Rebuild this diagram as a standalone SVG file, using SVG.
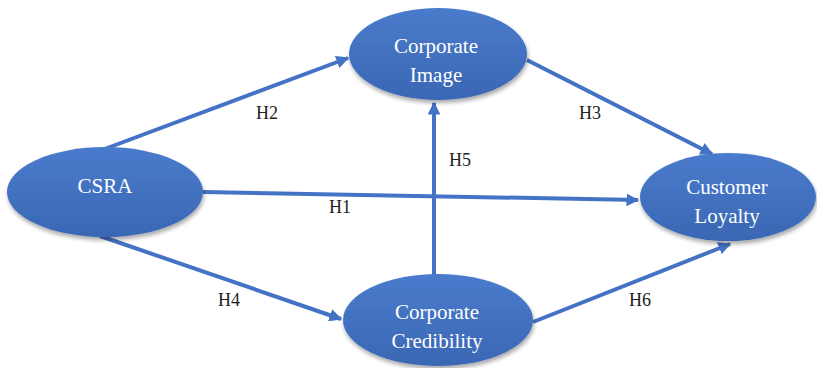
<svg xmlns="http://www.w3.org/2000/svg" width="817" height="368" viewBox="0 0 817 368">
<defs>
<linearGradient id="g" x1="0" y1="0" x2="0" y2="1">
<stop offset="0" stop-color="#4a7bcc"/>
<stop offset="1" stop-color="#3a67b4"/>
</linearGradient>
<filter id="sh" x="-10%" y="-10%" width="130%" height="140%">
<feGaussianBlur in="SourceAlpha" stdDeviation="2"/>
<feOffset dx="1" dy="3"/>
<feComponentTransfer><feFuncA type="linear" slope="0.35"/></feComponentTransfer>
<feMerge><feMergeNode/><feMergeNode in="SourceGraphic"/></feMerge>
</filter>
<marker id="ah" viewBox="0 0 10 10" refX="9" refY="5" markerWidth="3.2" markerHeight="3.2" orient="auto" markerUnits="strokeWidth">
<path d="M0,0 L10,5 L0,10 z" fill="#4472c4"/>
</marker>
<style>
.node{fill:url(#g);filter:url(#sh);}
.nt{font-family:'Liberation Serif','Times New Roman','DejaVu Serif',serif;font-size:21px;fill:#ffffff;text-anchor:middle;}
.lb{font-family:'Liberation Serif','Times New Roman','DejaVu Serif',serif;font-size:18px;fill:#222222;text-anchor:middle;}
.c{stroke:#4472c4;stroke-width:4;fill:none;marker-end:url(#ah);}
</style>
</defs>
<rect width="817" height="368" fill="#ffffff"/>
<g id="connectors">
<line class="c" x1="102" y1="150" x2="348" y2="58"/>
<line class="c" x1="527" y1="60" x2="712" y2="154"/>
<line class="c" x1="203" y1="192" x2="638" y2="200"/>
<line class="c" x1="434" y1="277" x2="434" y2="103"/>
<line class="c" x1="100" y1="236" x2="341" y2="319"/>
<line class="c" x1="533" y1="322" x2="730" y2="244"/>
</g>
<g id="labels">
<text class="lb" x="267" y="119">H2</text>
<text class="lb" x="590" y="119">H3</text>
<text class="lb" x="460" y="166">H5</text>
<text class="lb" x="340" y="213">H1</text>
<text class="lb" x="229" y="306">H4</text>
<text class="lb" x="640" y="306">H6</text>
</g>
<g id="image">
<ellipse class="node" cx="438" cy="54" rx="89" ry="46"/>
<text class="nt" x="436" y="53">Corporate</text>
<text class="nt" x="436" y="82">Image</text>
</g>
<g id="csra">
<ellipse class="node" cx="105" cy="192" rx="98" ry="45"/>
<text class="nt" x="105" y="193">CSRA</text>
</g>
<g id="loyalty">
<ellipse class="node" cx="728" cy="197" rx="88" ry="44"/>
<text class="nt" x="727" y="194">Customer</text>
<text class="nt" x="727" y="223">Loyalty</text>
</g>
<g id="credibility">
<ellipse class="node" cx="438" cy="320" rx="95" ry="46"/>
<text class="nt" x="437" y="319">Corporate</text>
<text class="nt" x="437" y="348">Credibility</text>
</g>
</svg>
